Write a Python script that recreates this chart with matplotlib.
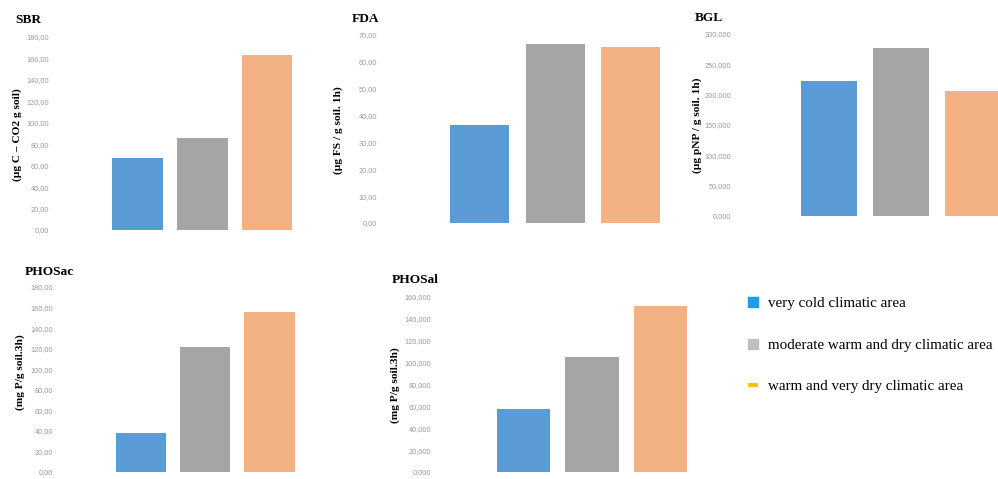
import matplotlib.pyplot as plt
from matplotlib.lines import Line2D

W, H = 998, 479

# values
areas = ['very cold climatic area',
         'moderate warm and dry climatic area',
         'warm and very dry climatic area']
bar_colors = ['#5B9BD5', '#A5A5A5', '#F4B183']
legend_colors = ['#1E9EEA', '#BFBFBF', '#FFC000']

sbr = [67.0, 86.0, 163.0]
fda = [36.5, 66.6, 65.5]
bgl = [222000, 277000, 206000]
phosac = [38.0, 121.5, 155.5]
phosal = [57600, 105000, 151500]

panels = [
    dict(title='SBR', ylabel='(µg C – CO2 g soil)', vals=sbr, ymax=180, step=20, fmt='{:.2f}',
         px=(52, 306, 37, 230), tpos=(15, 20), ypos=(17, 135)),
    dict(title='FDA', ylabel='(µg FS / g soil. 1h)', vals=fda, ymax=70, step=10, fmt='{:.2f}',
         px=(380, 676, 35, 223), tpos=(352, 19), ypos=(338, 130)),
    dict(title='BGL', ylabel='(µg pNP / g soil. 1h)', vals=bgl, ymax=300000, step=50000, fmt='{:.3f}',
         px=(734, 1016, 34, 216), tpos=(695, 18), ypos=(697, 125)),
    dict(title='PHOSac', ylabel='(mg P/g soil.3h)', vals=phosac, ymax=180, step=20, fmt='{:.2f}',
         px=(56, 308, 287, 472), tpos=(25, 272), ypos=(20, 372)),
    dict(title='PHOSal', ylabel='(mg P/g soil.3h)', vals=phosal, ymax=160000, step=20000, fmt='{:.3f}',
         px=(434, 701, 297, 472), tpos=(392, 280), ypos=(395, 385)),
]

plt.rcParams['font.family'] = ['Liberation Serif', 'DejaVu Serif']
fig = plt.figure(figsize=(W / 100, H / 100), dpi=100)

for p in panels:
    x0, x1, y0, y1 = p['px']
    ax = fig.add_axes([x0 / W, 1 - y1 / H, (x1 - x0) / W, (y1 - y0) / H])
    ax.bar(range(3), p['vals'], width=0.78, color=bar_colors)
    ax.set_xlim(-1.32, 2.6)
    ax.set_ylim(0, p['ymax'])
    ticks = list(range(0, p['ymax'] + 1, p['step']))
    ax.set_yticks(ticks)
    if p['ymax'] > 1000:
        labels = [p['fmt'].format(t / 1000).replace('.', ',') for t in ticks]
    else:
        labels = [p['fmt'].format(t).replace('.', ',') for t in ticks]
    ax.set_yticklabels(labels, fontsize=5.3, color='#9A9A9A', family='Liberation Sans')
    ax.tick_params(axis='y', length=0, pad=2)
    ax.set_xticks([])
    for s in ax.spines.values():
        s.set_visible(False)
    ax.patch.set_alpha(0)

    tx, ty = p['tpos']
    fig.text(tx / W, 1 - ty / H, p['title'], fontsize=9.6, fontweight='bold',
             ha='left', va='center')
    lx, ly = p['ypos']
    fig.text(lx / W, 1 - ly / H, p['ylabel'], fontsize=8.2, fontweight='bold',
             rotation=90, ha='center', va='center')

handles = [
    Line2D([], [], linestyle='none', marker='s', markersize=7, color=legend_colors[0]),
    Line2D([], [], linestyle='none', marker='s', markersize=6.5, color=legend_colors[1]),
    Line2D([], [], linestyle='none', marker='_', markersize=7, markeredgewidth=3, color=legend_colors[2]),
]
fig.legend(handles, areas, loc='upper left', bbox_to_anchor=(746 / W, 1 - 297 / H),
           frameon=False, fontsize=10.8, labelspacing=1.86, handlelength=0.9,
           handletextpad=0.55, borderpad=0, borderaxespad=0)

fig.savefig('out.png', dpi=100)
